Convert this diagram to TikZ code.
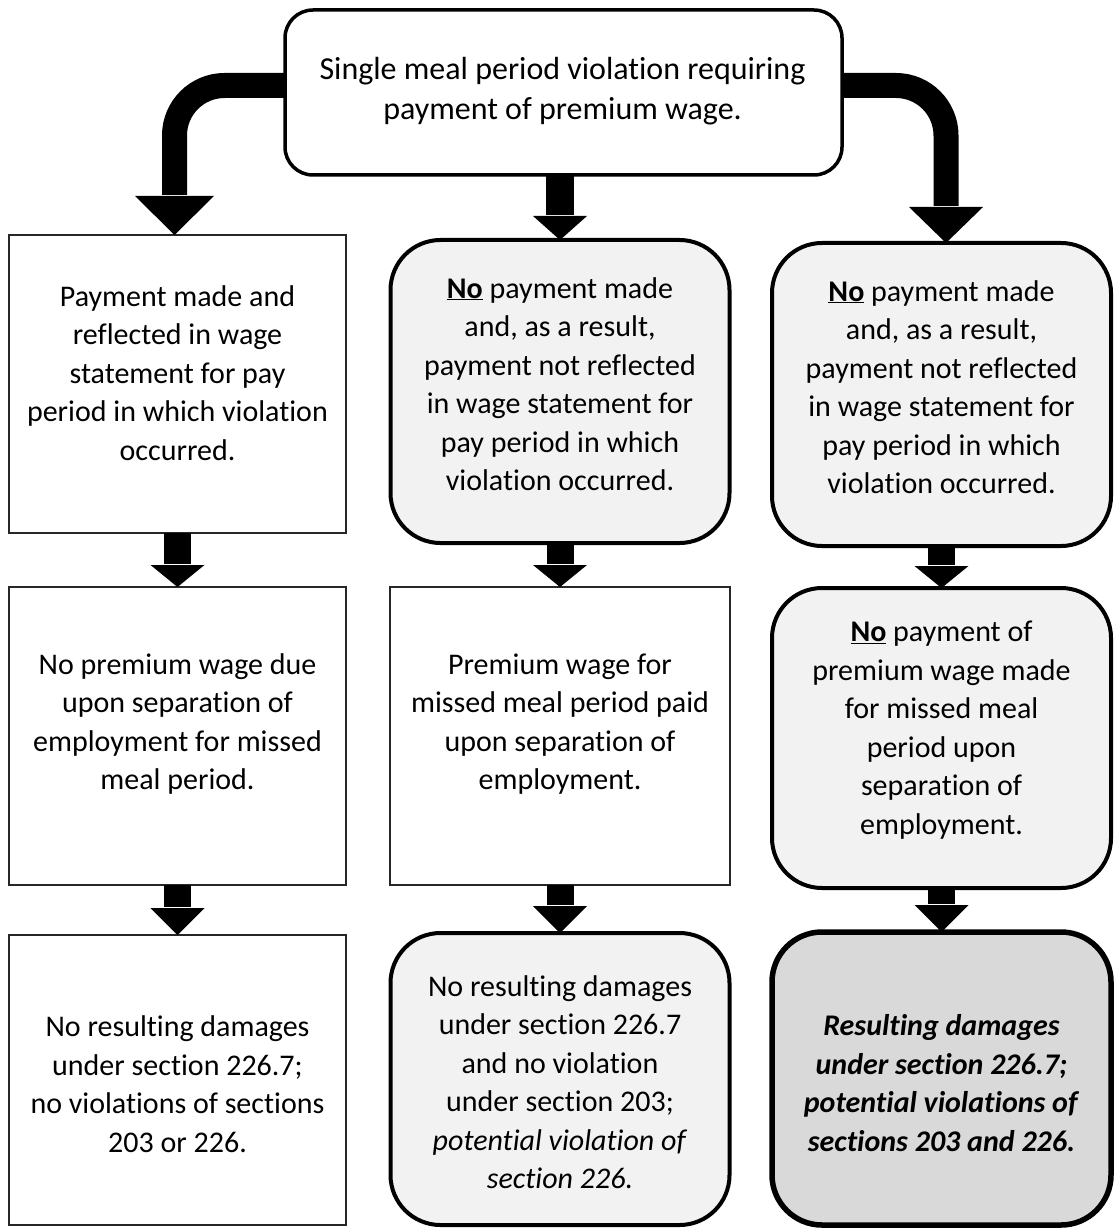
\documentclass[tikz,border=0pt]{standalone}
\usepackage{fontspec}
\setmainfont{Carlito}[Ligatures=NoCommon]
\usetikzlibrary{calc}
\definecolor{lightfill}{HTML}{F2F2F2}
\definecolor{darkfill}{HTML}{D9D9D9}
\newcommand\blkdown[5]{%
  \draw[line width=#3] (#1.south -| #2.north) -- ($(#2.north)+(0,-#5-1)$);
  \fill ($(#2.north)+(-#4,-#5)$) -- ($(#2.north)+(#4,-#5)$) -- (#2.north) -- cycle;}
\begin{document}
\begin{tikzpicture}[x=1pt,y=-1pt,
  sqbox/.style={draw=black!85, line width=2pt, fill=white, inner sep=0pt, outer sep=0pt, minimum width=337pt},
  rndbox/.style={draw=black, line width=4pt, fill=lightfill, rounded corners=50pt, inner sep=0pt, outer sep=0pt, minimum width=339pt},
  endbox/.style={draw=black, line width=5.5pt, fill=darkfill, rounded corners=50pt, inner sep=0pt, outer sep=0pt, minimum width=339pt},
  topbox/.style={draw=black, line width=3.5pt, fill=white, rounded corners=28pt, inner sep=0pt, outer sep=0pt, minimum width=557pt, minimum height=165pt},
  txt/.style={align=center, inner sep=0pt, font=\fontsize{30}{38.5}\selectfont},
  toptxt/.style={align=center, inner sep=0pt, font=\fontsize{32}{40}\selectfont},
  curved/.style={line width=25pt, rounded corners=50pt}
]
\useasboundingbox (0,0) rectangle (1114,1230);

% boxes
\node[topbox] (top) at (563.5,92.5) {};
\node[sqbox, minimum height=298pt] (L1) at (177.5,384) {};
\node[rndbox, minimum height=303pt] (M1) at (560,391.5) {};
\node[rndbox, minimum height=303pt] (R1) at (941.5,394.5) {};
\node[sqbox, minimum height=298pt] (L2) at (177.5,736) {};
\node[sqbox, minimum height=298pt, minimum width=340pt] (M2) at (560,736) {};
\node[rndbox, minimum height=300pt] (R2) at (941.5,738) {};
\node[sqbox, minimum height=290pt] (L3) at (177.5,1080) {};
\node[rndbox, minimum height=292pt] (M3) at (560,1079) {};
\node[endbox, minimum height=293pt] (R3) at (941.5,1078.5) {};

% texts
\node[toptxt] (tTop) at (562.5,91) {Single meal period violation requiring\\payment of premium wage.};
\node[txt] (tL1) at (177.5,373) {Payment made and\\reflected in wage\\statement for pay\\period in which violation\\occurred.};
\node[txt] (tM1) at (560,384) {\underline{\textbf{No}} payment made\\and, as a result,\\payment not reflected\\in wage statement for\\pay period in which\\violation occurred.};
\node[txt] (tR1) at (941.5,387) {\underline{\textbf{No}} payment made\\and, as a result,\\payment not reflected\\in wage statement for\\pay period in which\\violation occurred.};
\node[txt] (tL2) at (177.5,724) {No premium wage due\\upon separation of\\employment for missed\\meal period.};
\node[txt] (tM2) at (560,724) {Premium wage for\\missed meal period paid\\upon separation of\\employment.};
\node[txt] (tR2) at (941.5,730) {\underline{\textbf{No}} payment of\\premium wage made\\for missed meal\\period upon\\separation of\\employment.};
\node[txt] (tL3) at (177.5,1084) {No resulting damages\\under section 226.7;\\no violations of sections\\203 or 226.};
\node[txt] (tM3) at (560,1082) {No resulting damages\\under section 226.7\\and no violation\\under section 203;\\\textit{potential violation of}\\\textit{section 226.}};
\node[txt] (tR3) at (941.5,1083) {\textbf{\textit{Resulting damages}}\\\textbf{\textit{under section 226.7;}}\\\textbf{\textit{potential violations of}}\\\textbf{\textit{sections 203 and 226.}}};

% curved arrows from the top box
\draw[curved] ($(top.west)+(0,-7)$) -| ($(L1.north)+(-3,-40)$);
\fill ($(L1.north)+(-42.5,-39)$) -- ($(L1.north)+(36.5,-39)$) -- ($(L1.north)+(-3,0)$) -- cycle;
\draw[curved] ($(top.east)+(0,-7)$) -| ($(R1.north)+(4.5,-37)$);
\fill ($(R1.north)+(-32.5,-36)$) -- ($(R1.north)+(41.5,-36)$) -- ($(R1.north)+(4.5,0)$) -- cycle;

% straight arrows
\blkdown{top}{M1}{28pt}{27}{24}
\blkdown{L1}{L2}{27pt}{27}{22}
\blkdown{M1}{M2}{27pt}{27}{22}
\blkdown{R1}{R2}{27pt}{27}{22}
\blkdown{L2}{L3}{27pt}{27}{27}
\blkdown{M2}{M3}{27pt}{27}{27}
\blkdown{R2}{R3}{27pt}{27}{27}
\end{tikzpicture}
\end{document}
